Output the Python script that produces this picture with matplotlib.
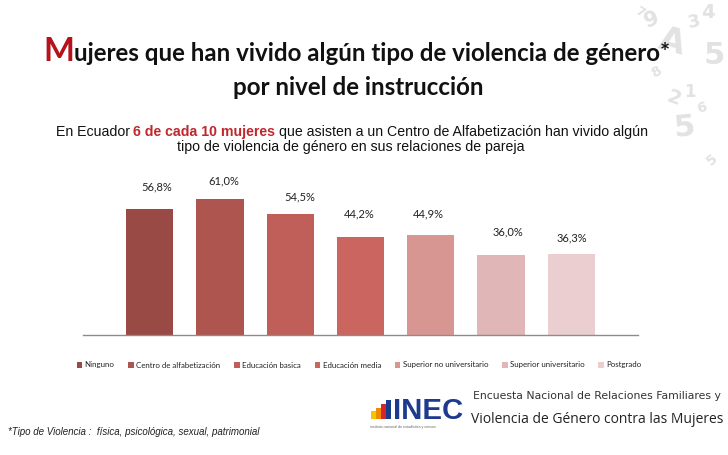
import matplotlib
matplotlib.use("Agg")
import matplotlib.pyplot as plt
from matplotlib.patches import Rectangle

# Data
categories = ["Ninguno", "Centro de alfabetización", "Educación basica", "Educación media",
              "Superior no universitario", "Superior universitario", "Postgrado"]
values = [56.8, 61.0, 54.5, 44.2, 44.9, 36.0, 36.3]
value_labels = ["56,8%", "61,0%", "54,5%", "44,2%", "44,9%", "36,0%", "36,3%"]

bar_colors = ["#9A4A45", "#AE5550", "#C05E59", "#CB655F", "#D89693", "#E0B7B6", "#EBCFD0"]
# label offsets from bar top centre, in pixels (labels were hand placed in the source)
label_dx = [7, 3.5, 10, -1, -2, 6.7, 0.6]
label_dy = [21.9, 18.6, 17, 22.4, 20.8, 22.6, 16.5]

W, H = 728, 455
fig = plt.figure(figsize=(W / 100, H / 100), dpi=100)
fig.patch.set_facecolor("white")
renderer = fig.canvas.get_renderer()


def px(x, y):
    # pixel position (from top left) -> figure fraction
    return x / W, 1 - y / H


def text_width(t):
    return t.get_window_extent(renderer).width


def space_width(size, **kw):
    a = fig.text(0, 0, "x x", fontsize=size, **kw)
    b = fig.text(0, 0, "xx", fontsize=size, **kw)
    w = text_width(a) - text_width(b)
    a.remove()
    b.remove()
    return w


def rich_line(parts, xc, y, width, base=10, gap_kw=None):
    # parts: list of (text, rel_size, kwargs, space_after)
    texts = []
    for s, rel, kw, _ in parts:
        texts.append(fig.text(0, 0, s, fontsize=base * rel, va="baseline", **kw))
    gap = space_width(base, **(gap_kw or {}))
    total = sum(text_width(t) for t in texts) + gap * sum(p[3] for p in parts)
    scale = width / total
    for t, p in zip(texts, parts):
        t.set_fontsize(base * p[1] * scale)
    gap *= scale
    widths = [text_width(t) for t in texts]
    total = sum(widths) + gap * sum(p[3] for p in parts)
    x = xc - total / 2
    for t, w, p in zip(texts, widths, parts):
        t.set_position(px(x, y))
        x += w + gap * p[3]
    return texts


# ---- grey number decoration (top right corner), drawn first so it sits behind ----
deco = [("9", 652, 20, 15, 20), ("A", 672, 42, 24, -15), ("3", 694, 22, 13, 10),
        ("5", 714, 55, 22, 0), ("8", 656, 72, 10, 30), ("2", 674, 98, 14, -20),
        ("1", 690, 92, 12, 0), ("5", 684, 128, 22, 5), ("4", 708, 12, 14, 0),
        ("6", 702, 108, 10, 15), ("5", 712, 160, 10, 40), ("7", 640, 12, 9, -30)]
for s, dx, dy, sz, rot in deco:
    fig.text(*px(dx, dy), s, fontsize=sz, color="#A0A0A0", alpha=0.3, rotation=rot,
             ha="center", va="center", family="DejaVu Sans", weight="bold")

# ---- Title ----
red = "#B5121B"
tfont = dict(family="Lato", weight="bold", color="#111111")
rich_line([("M", 1.35, dict(family="Lato", weight="bold", color=red), 0),
           ("ujeres que han vivido algún tipo de violencia de género*", 1, tfont, 0)],
          357, 61, 630, base=18)
rich_line([("por nivel de instrucción", 1, tfont, 0)], 358, 95, 252, base=18)

# ---- Subtitle ----
sfont = dict(family="Liberation Sans", color="#111111")
rich_line([("En Ecuador", 1, sfont, 1),
           ("6 de cada 10 mujeres", 1, dict(family="Liberation Sans", weight="bold", color="#C0282D"), 1),
           ("que asisten a un Centro de Alfabetización han vivido algún", 1, sfont, 0)],
          352, 136, 590, base=10, gap_kw=dict(family="Liberation Sans"))
rich_line([("tipo de violencia de género en sus relaciones de pareja", 1, sfont, 0)],
          351, 151, 346, base=10)

# ---- Chart ----
ax = fig.add_axes([83 / W, 120 / H, 555 / W, 155.75 / H])
x = list(range(len(values)))
bars = ax.bar(x, values, width=0.67, color=bar_colors)
ax.set_xlim(-0.95, 6.95)
ax.set_ylim(0, 70)
for s in ["top", "right", "left"]:
    ax.spines[s].set_visible(False)
ax.spines["bottom"].set_color("#8C8C8C")
ax.spines["bottom"].set_linewidth(1.0)
ax.set_xticks([])
ax.set_yticks([])

for i, (v, lab) in enumerate(zip(values, value_labels)):
    ax.annotate(lab, xy=(i, v), xytext=(label_dx[i] * 0.72, label_dy[i] * 0.72),
                textcoords="offset points", ha="center", va="center",
                fontsize=8, family="Lato", color="#222222", annotation_clip=False)

leg = fig.legend(bars, categories, loc="center", bbox_to_anchor=px(359, 365), ncol=7,
                 frameon=False, prop=dict(family="Lato", size=5.7), handlelength=0.7,
                 handleheight=0.7, handletextpad=0.3, columnspacing=1.75, borderpad=0)
for t in leg.get_texts():
    t.set_color("#222222")

# ---- Footnote ----
fig.text(*px(8, 435), "*Tipo de Violencia :  física, psicológica, sexual, patrimonial",
         fontsize=7, style="italic", family="Liberation Sans", color="#222222", va="baseline")

# ---- INEC logo block ----
logo_bars = [("#F5C400", 371, 411, 5, 8), ("#F08A00", 376, 408, 5, 11),
             ("#D7262A", 381, 404, 5, 15), ("#1B3C8C", 386, 400, 5, 19)]
for c, lx, ly, lw, lh in logo_bars:
    fx, fy = px(lx, ly + lh)
    fig.add_artist(Rectangle((fx, fy), lw / W, lh / H, transform=fig.transFigure,
                             color=c, lw=0))
rich_line([("INEC", 1, dict(family="Liberation Sans", weight="bold", color="#1E3A8E"), 0)],
          428, 419, 70, base=20)
fig.text(*px(370, 428), "instituto nacional de estadística y censos", fontsize=2.6,
         color="#666666", family="Liberation Sans", va="baseline")
rich_line([("Encuesta Nacional de Relaciones Familiares y", 1,
            dict(family="Liberation Sans Narrow", color="#333333"), 0)],
          597, 399, 249, base=9)
rich_line([("Violencia de Género contra las Mujeres", 1,
            dict(family="Open Sans", color="#222222"), 0)],
          597, 423, 250, base=12)

fig.savefig("out.png", dpi=100)
